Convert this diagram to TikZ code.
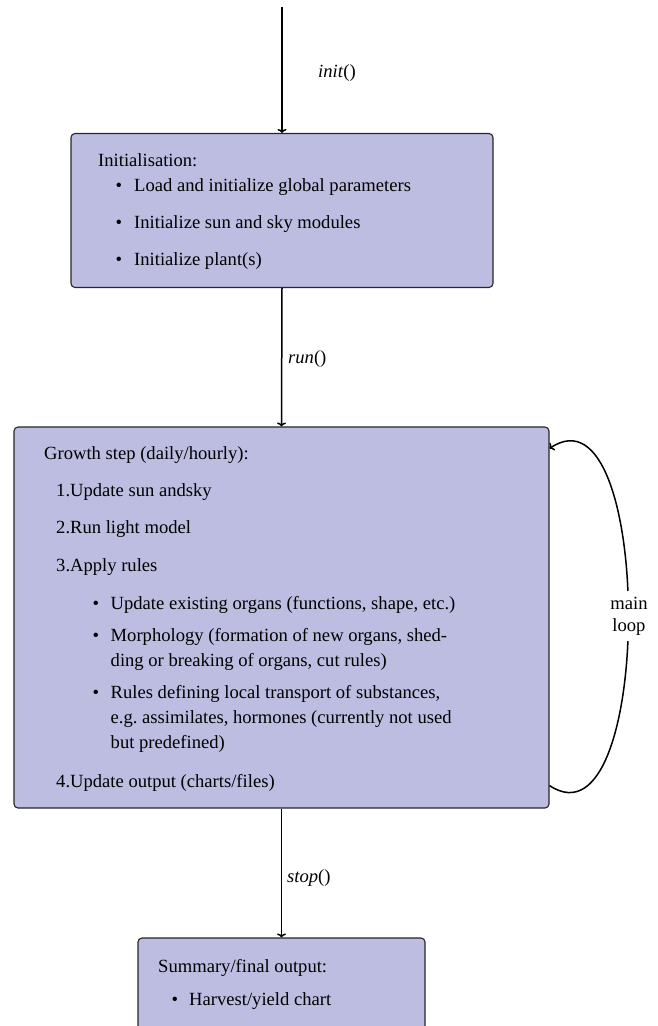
\documentclass[tikz,border=0pt]{standalone}
\usepackage{fontspec}
\setmainfont{Liberation Serif}
\usepackage{tikz}
\usetikzlibrary{arrows.meta}

\definecolor{boxfill}{RGB}{188,189,224}

\begin{document}
\begin{tikzpicture}[x=1pt, y=-1pt,
			every node/.style={font=\fontsize{18.6}{22}\selectfont},
			box/.style={draw=black!85, fill=boxfill, rounded corners=4pt, line width=1.1pt, inner sep=0pt},
			txt/.style={anchor=base west, inner sep=0pt},
			blt/.style={anchor=base, inner sep=0pt},
			arr/.style={-{To[length=4pt, width=9pt]}, line width=1.5pt}]
			
			\clip (0,0) rectangle (657,1026);
			
			% Define the boxes
			\node[box, minimum width=422pt, minimum height=154pt] (init) at (282,210.5) {};
			\node[box, minimum width=535pt, minimum height=381pt] (growth) at (281.5,617.5) {};
			\node[box, minimum width=287pt, minimum height=140pt] (summary) at (281.5,1008) {};
			\coordinate (start) at (282,7);
			
			% Define the text of the first box
			\node[txt] (i0) at (98,166) {Initialisation:};
			\node[blt] (ib1) at (119,191) {\textbullet};
			\node[txt] (i1) at (134,191) {Load and initialize global parameters};
			\node[blt] (ib2) at (119,228) {\textbullet};
			\node[txt] (i2) at (134,228) {Initialize sun and sky modules};
			\node[blt] (ib3) at (119,265) {\textbullet};
			\node[txt] (i3) at (134,265) {Initialize plant(s)};
			
			% Define the text of the second box
			\node[txt] (g0) at (44,459) {Growth step (daily/hourly):};
			\node[txt] (g1) at (56,496) {1.Update sun andsky};
			\node[txt] (g2) at (56,533) {2.Run light model};
			\node[txt] (g3) at (56,571) {3.Apply rules};
			\node[blt] (gb1) at (96,609) {\textbullet};
			\node[txt] (g31) at (110.5,609) {Update existing organs (functions, shape, etc.)};
			\node[blt] (gb2) at (96,641) {\textbullet};
			\node[txt] (g32) at (110.5,641) {Morphology (formation of new organs, shed-};
			\node[txt] (g33) at (110.5,666) {ding or breaking of organs, cut rules)};
			\node[blt] (gb3) at (96,698) {\textbullet};
			\node[txt] (g34) at (110.5,698) {Rules defining local transport of substances,};
			\node[txt] (g35) at (110.5,723) {e.g.\ assimilates, hormones (currently not used};
			\node[txt] (g36) at (110.5,748) {but predefined)};
			\node[txt] (g4) at (56,787) {4.Update output (charts/files)};
			
			% Define the text of the third box
			\node[txt] (s0) at (158,972) {Summary/final output:};
			\node[blt] (sb1) at (175,1005) {\textbullet};
			\node[txt] (s1) at (189,1005) {Harvest/yield chart};
			
			% Draw the arrows
			\draw[arr] (start) -- (init.north);
			\draw[arr] (init.south) -- (growth.north);
			\draw[arr] (growth.south) -- (summary.north);
			\draw[arr] ([yshift=23pt]growth.south east) .. controls +(105,70) and +(105,-70) .. ([yshift=-22pt]growth.north east);
			
			% Labels of the arrows
			\node[txt] (linit) at (318,77) {\textit{init}()};
			\node[txt] (lrun) at (288,363) {\textit{run}()};
			\node[txt] (lstop) at (287,882) {\textit{stop}()};
			\node[fill=white, align=center, inner sep=6pt] (lloop) at (629,616) {main\\loop};
		\end{tikzpicture}
\end{document}
